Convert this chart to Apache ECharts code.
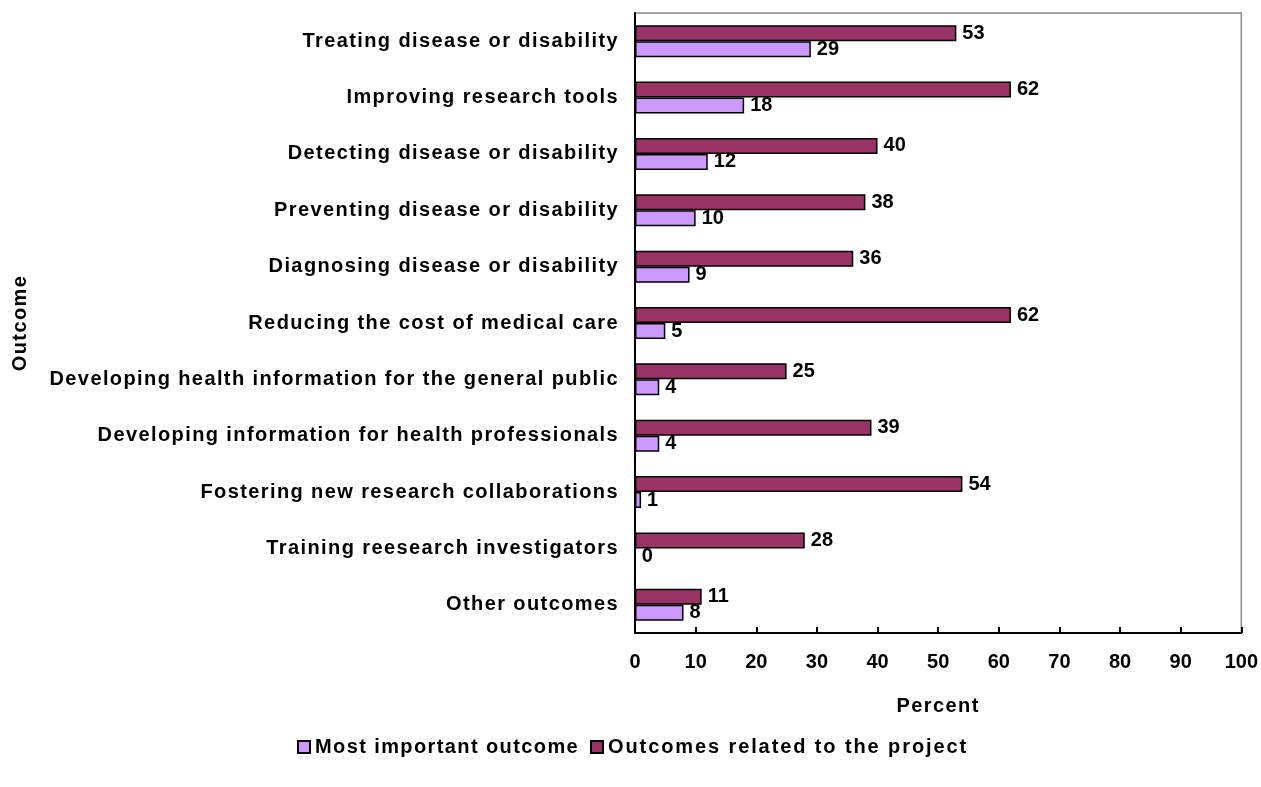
<!DOCTYPE html>
<html><head><meta charset="utf-8">
<script src="https://cdn.jsdelivr.net/npm/echarts@6/dist/echarts.min.js"></script>
<style>html,body{margin:0;padding:0;background:#fff}#c{width:1261px;height:787px}</style>
</head><body><div id="c"></div>
<script>
const categories = ["Treating disease or disability","Improving research tools","Detecting disease or disability","Preventing disease or disability","Diagnosing disease or disability","Reducing the cost of medical care","Developing health information for the general public","Developing information for health professionals","Fostering new research collaborations","Training reesearch investigators","Other outcomes"];
const mostImportant = [29,18,12,10,9,5,4,4,1,0,8];
const relatedOutcomes = [53,62,40,38,36,62,25,39,54,28,11];
const xTicks = [0,10,20,30,40,50,60,70,80,90,100];

// wider letter spacing for word text only (the reference uses spaced-out bold words, plain digits)
(function(){
  const P = CanvasRenderingContext2D.prototype;
  const orig = P.fillText;
  P.fillText = function(t, x, y, m){
    const s = String(t);
    if ('letterSpacing' in this) {
      const f = this.font;
      this.letterSpacing = /^\d+$/.test(s) ? '0px' : (s.length > 20 && /the project/.test(s) ? '1.9px' : '1.4px');
      this.font = f;
    }
    orig.call(this, t, x, y, m);
    if ('letterSpacing' in this) { const f = this.font; this.letterSpacing = '0px'; this.font = f; }
  };
})();

const font = 'Liberation Sans, Arial, sans-serif';
const chart = echarts.init(document.getElementById('c'), null, {renderer:'canvas'});
const lbl = {show:true, position:'right', distance:6, color:'#000', fontFamily:font, fontWeight:'bold', fontSize:20};
const legendText = {fontFamily:font, fontWeight:'bold', fontSize:20, color:'#000'};
chart.setOption({
  animation:false,
  grid:{left:635, right:19, top:13, bottom:154, show:true, borderColor:'#888', borderWidth:1.5},
  legend:[
    {top:737, left:297, padding:0, itemWidth:12, itemHeight:12, icon:'rect', selectedMode:false,
      data:['Most important outcome'], textStyle:legendText},
    {top:737, left:590, padding:0, itemWidth:12, itemHeight:12, icon:'rect', selectedMode:false,
      data:['Outcomes related to the project'], textStyle:legendText}
  ],
  xAxis:{type:'value', min:0, max:100, interval:10,
    name:'Percent', nameLocation:'middle', nameGap:63,
    nameTextStyle:{fontFamily:font, fontWeight:'bold', fontSize:20, color:'#000'},
    axisLine:{show:true, lineStyle:{color:'#000', width:2}},
    axisTick:{show:true, inside:true, length:6, lineStyle:{color:'#000', width:2}},
    axisLabel:{margin:19, fontFamily:font, fontWeight:'bold', fontSize:20, color:'#000',
      formatter:v=>xTicks.includes(v)?String(v):''},
    splitLine:{show:false}},
  yAxis:{type:'category', data:categories, inverse:true,
    name:'Outcome', nameLocation:'middle', nameGap:605, nameRotate:90,
    nameTextStyle:{fontFamily:font, fontWeight:'bold', fontSize:20, color:'#000'},
    axisLine:{show:true, lineStyle:{color:'#000', width:2}},
    axisTick:{show:false},
    axisLabel:{margin:16, fontFamily:font, fontWeight:'bold', fontSize:20, color:'#000'}},
  series:[
    {name:'Outcomes related to the project', type:'bar', data:relatedOutcomes, barWidth:16, barGap:'0%',
      itemStyle:{color:'#993366', borderColor:'#000', borderWidth:1.5}, label:lbl},
    {name:'Most important outcome', type:'bar', data:mostImportant, barWidth:16, barGap:'0%',
      itemStyle:{color:'#CC99FF', borderColor:'#000', borderWidth:1.5}, label:lbl}
  ]
});
</script></body></html>
